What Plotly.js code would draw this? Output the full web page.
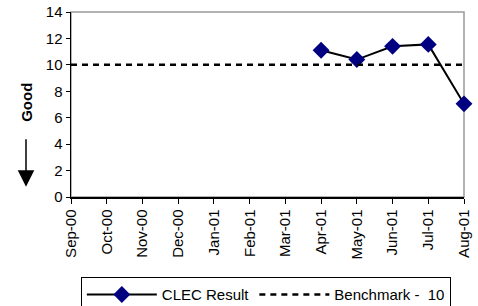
<!DOCTYPE html>
<html><head><meta charset="utf-8">
<script src="https://cdn.plot.ly/plotly-3.0.1.min.js"></script>
<style>html,body{margin:0;padding:0;background:#fff}#c{width:478px;height:306px}</style>
</head><body><div id="c"></div>
<script>
const months = ["Sep-00","Oct-00","Nov-00","Dec-00","Jan-01","Feb-01","Mar-01","Apr-01","May-01","Jun-01","Jul-01","Aug-01"];
const clecResult = [null,null,null,null,null,null,null,11.1,10.4,11.4,11.55,7.05];
const benchmark = [10,10,10,10,10,10,10,10,10,10,10,10];
const yTicks = [0,2,4,6,8,10,12,14];

const traces = [
  {x: months, y: clecResult, name: "CLEC Result", type: "scatter", mode: "lines+markers",
   line: {color: "#000000", width: 2}, marker: {symbol: "diamond", size: 13, color: "#000080"}, cliponaxis: false},
  {x: months, y: benchmark, name: "Benchmark - \u00a010", type: "scatter", mode: "lines",
   line: {color: "#000000", width: 2.5, dash: "6px,5px"}}
];
const layout = {
  width: 478, height: 306,
  margin: {l: 71, r: 14, t: 12, b: 109, autoexpand: false},
  paper_bgcolor: "#fff", plot_bgcolor: "#fff",
  font: {family: "Arial, Liberation Sans, sans-serif", size: 15, color: "#000"},
  showlegend: true,
  legend: {orientation: "h", x: 0.025, y: -0.434, xanchor: "left", yanchor: "top",
    bordercolor: "#000", borderwidth: 1, itemwidth: 70, font: {size: 15},
    tracegroupgap: 0, itemclick: false},
  xaxis: {type: "category", range: [0, 11], tickangle: -90, ticks: "outside", ticklen: 5,
    tickcolor: "#000", showline: true, linecolor: "#000", linewidth: 1.5, showgrid: false,
    zeroline: false, fixedrange: true},
  yaxis: {range: [0, 14], tickvals: yTicks, ticks: "outside", ticklen: 4, tickcolor: "#000",
    showline: true, linecolor: "#000", linewidth: 1.5, showgrid: false, zeroline: false, fixedrange: true},
  shapes: [
    {type: "rect", xref: "paper", yref: "paper", x0: 0, x1: 1, y0: 0, y1: 1,
     line: {color: "#999", width: 1.5}, layer: "below"}
  ],
  annotations: [
    {text: "<b>Good</b>", xref: "paper", yref: "paper", x: -0.114, y: 0.51, textangle: -90,
     xanchor: "center", yanchor: "middle", showarrow: false, font: {size: 15}},
    {text: "", xref: "paper", yref: "paper", x: -0.1145, y: 0.055, ax: 0, ay: -49,
     showarrow: true, arrowhead: 2, arrowsize: 2.2, arrowwidth: 1.5, arrowcolor: "#000"}
  ]
};
Plotly.newPlot("c", traces, layout, {displayModeBar: false, staticPlot: true});
</script></body></html>
